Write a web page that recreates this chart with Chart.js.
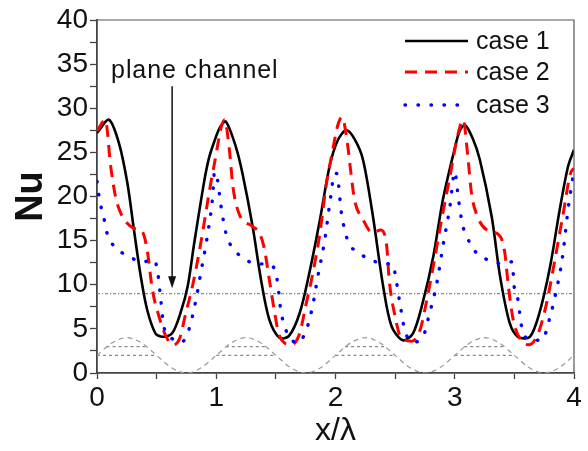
<!DOCTYPE html>
<html>
<head>
<meta charset="utf-8">
<title>Nu along the channel</title>
<script src="https://cdn.jsdelivr.net/npm/chart.js@4.4.1/dist/chart.umd.min.js"></script>
<style>
    html, body { margin: 0; padding: 0; background: #fff; }
    #wrap { width: 588px; height: 451px; }
</style>
</head>
<body>
<div id="wrap"><canvas id="nuChart" width="588" height="451"></canvas></div>
<script>
// Values (x in wavelengths, Nu)

const case1X = [0, 0.10, 0.185, 0.255, 0.31, 0.367, 0.42, 0.49, 0.55, 0.63, 0.70, 0.76, 0.815, 0.90, 0.94, 0.983, 1.03,
    1.08, 1.165, 1.22, 1.305, 1.375, 1.445, 1.53, 1.61, 1.70, 1.78, 1.87, 1.95, 2.02,
    2.09, 2.16, 2.23, 2.31, 2.40, 2.47, 2.565, 2.65, 2.73, 2.82, 2.90, 2.99, 3.04,
    3.085, 3.15, 3.21, 3.31, 3.38, 3.46, 3.53, 3.63, 3.71, 3.80, 3.88, 3.95, 4.0];
const case1Y = [27.2, 28.7, 26.0, 21.5, 16.2, 10.95, 7.2, 4.5, 4.1, 4.5, 6.8, 9.8, 14.7, 21.8, 24.4, 26.2, 27.8,
    28.5, 25.6, 22.6, 16.6, 10.6, 6.05, 4.0, 4.2, 6.8, 11.3, 17.4, 23.4, 26.4,
    27.5, 26.5, 24.2, 18.1, 9.8, 5.3, 3.7, 4.5, 7.9, 13.2, 19.6, 24.9, 27.4,
    28.1, 26.6, 24.2, 17.7, 10.95, 5.7, 4.1, 4.1, 6.8, 12.1, 18.5, 23.4, 25.3];

const case2X = [0, 0.07, 0.115, 0.155, 0.20, 0.31, 0.38, 0.42, 0.465, 0.52, 0.577, 0.633, 0.69, 0.745, 0.80, 0.87, 0.94, 0.98,
    1.07, 1.11, 1.14, 1.19, 1.305, 1.36, 1.40, 1.445, 1.49, 1.53, 1.63, 1.70, 1.75, 1.81, 1.87, 1.92, 1.97, 2.02,
    2.055, 2.10, 2.13, 2.16, 2.23, 2.31, 2.38, 2.43, 2.45, 2.50, 2.55, 2.64, 2.71, 2.76, 2.82, 2.89, 2.96, 3.03,
    3.07, 3.11, 3.14, 3.18, 3.27, 3.38, 3.42, 3.45, 3.49, 3.55, 3.62, 3.70, 3.77, 3.83, 3.91, 3.97, 4.0];
const case2Y = [27.4, 28.7, 23.4, 20.0, 18.1, 16.4, 16.0, 14.0, 9.4, 6.4, 4.2, 3.2, 3.8, 6.8, 9.8, 14.7, 20.4, 23.4,
    28.7, 25.3, 21.1, 18.1, 16.6, 15.9, 14.3, 10.6, 6.8, 4.2, 3.2, 4.5, 7.6, 11.3, 15.9, 21.1, 24.8, 28.1,
    29.0, 26.0, 22.6, 19.6, 17.4, 15.9, 16.2, 14.3, 10.6, 6.4, 4.0, 3.6, 4.9, 7.9, 12.1, 17.4, 22.3, 27.2,
    28.7, 24.5, 20.4, 18.1, 16.2, 15.5, 13.6, 9.8, 6.05, 3.8, 3.2, 4.5, 7.9, 12.1, 18.1, 22.6, 23.2];

const case3X = [0, 0.015, 0.036, 0.06, 0.087, 0.157, 0.27, 0.38, 0.48, 0.51, 0.535, 0.56, 0.62, 0.71, 0.77, 0.83, 0.87, 0.93, 0.97, 0.985,
    1.01, 1.04, 1.08, 1.12, 1.22, 1.33, 1.445, 1.49, 1.515, 1.54, 1.56, 1.60, 1.68, 1.75, 1.81, 1.85, 1.91, 1.96, 1.99,
    2.01, 2.05, 2.10, 2.20, 2.30, 2.41, 2.48, 2.51, 2.54, 2.58, 2.65, 2.74, 2.78, 2.85, 2.90, 2.96, 3.00,
    3.03, 3.065, 3.10, 3.17, 3.28, 3.39, 3.48, 3.50, 3.53, 3.56, 3.62, 3.73, 3.80, 3.85, 3.90, 3.95, 4.0];
const case3Y = [21.7, 20.2, 18.7, 17.4, 15.7, 14.2, 13.2, 12.6, 12.8, 11.3, 8.3, 5.3, 4.0, 3.5, 4.9, 8.3, 11.3, 15.9, 20.0, 22.8,
    21.9, 18.9, 15.9, 14.5, 13.1, 12.4, 12.3, 11.7, 10.2, 7.2, 5.9, 4.4, 3.4, 4.7, 7.7, 10.8, 15.1, 20.0, 22.6,
    22.6, 18.1, 15.1, 13.6, 12.8, 12.4, 12.3, 10.4, 7.9, 4.9, 3.5, 4.3, 6.3, 10.2, 14.3, 18.9, 22.8,
    19.8, 16.8, 15.5, 13.8, 12.8, 12.4, 12.6, 9.6, 8.3, 5.3, 3.8, 3.7, 6.4, 9.25, 12.8, 18.5, 23.0];

// wavy wall profile (gray dashed) and the two chords drawn across each bump
const wallX = [0, 0.125, 0.25, 0.375, 0.5, 0.625, 0.75, 0.875, 1, 1.125, 1.25, 1.375, 1.5, 1.625, 1.75, 1.875,
    2, 2.125, 2.25, 2.375, 2.5, 2.625, 2.75, 2.875, 3, 3.125, 3.25, 3.375, 3.5, 3.625, 3.75, 3.875, 4];
const wallY = [2, 3.4, 4, 3.4, 2, 0.6, 0, 0.6, 2, 3.4, 4, 3.4, 2, 0.6, 0, 0.6,
    2, 3.4, 4, 3.4, 2, 0.6, 0, 0.6, 2, 3.4, 4, 3.4, 2, 0.6, 0, 0.6, 2];
const chordLowX = [0, 0.5, 1, 1.5, 2, 2.5, 3, 3.5];
const chordHighX = [0.08, 0.42, 1.08, 1.42, 2.08, 2.42, 3.08, 3.42];
const chordLowY = 2;
const chordHighY = 3;

// plane channel reference level
const planeNu = 9;
const planeLabel = 'plane channel';
const arrowX = 0.63;
const arrowFrom = 32.5;
const arrowTo = 9.6;
const labelX = 0.82;
const labelY = 33.4;

const xTicks = [0, 1, 2, 3, 4];
const yTicks = [0, 5, 10, 15, 20, 25, 30, 35, 40];
const seriesNames = ['case 1', 'case 2', 'case 3'];

const FONT = "'Liberation Sans', Arial, sans-serif";

function toPoints(xs, ys) {
    return xs.map((x, i) => ({ x: x, y: ys[i] }));
}

// pairs of x values -> separate horizontal segments, broken by null
function chordPoints(xs, level) {
    const pts = [];
    for (let i = 0; i < xs.length; i += 2) {
        pts.push({ x: xs[i], y: level }, { x: xs[i + 1], y: level });
        if (i + 2 < xs.length) pts.push({ x: (xs[i + 1] + xs[i + 2]) / 2, y: null });
    }
    return pts;
}

const caseSets = [
    {
        label: seriesNames[0],
        data: toPoints(case1X, case1Y),
        borderColor: '#000000',
        borderWidth: 2.6,
        borderDash: [],
        borderCapStyle: 'butt',
        tension: 0.3,
        order: 2
    },
    {
        label: seriesNames[1],
        data: toPoints(case2X, case2Y),
        borderColor: '#ff0000',
        borderWidth: 3,
        borderDash: [12, 8],
        borderCapStyle: 'butt',
        cubicInterpolationMode: 'monotone',
        order: 1
    },
    {
        label: seriesNames[2],
        data: toPoints(case3X, case3Y),
        borderColor: '#0000ff',
        borderWidth: 3.4,
        borderDash: [0.5, 12.5],
        borderCapStyle: 'round',
        cubicInterpolationMode: 'monotone',
        order: 0
    }
];

const extraSets = [
    {
        label: 'wall',
        data: toPoints(wallX, wallY),
        borderColor: '#999999',
        borderWidth: 1.2,
        borderDash: [5, 4],
        cubicInterpolationMode: 'monotone',
        order: 5
    },
    {
        label: 'chord low',
        data: chordPoints(chordLowX, chordLowY),
        borderColor: '#8a8a8a',
        borderWidth: 1.2,
        borderDash: [3, 3],
        spanGaps: false,
        order: 5
    },
    {
        label: 'chord high',
        data: chordPoints(chordHighX, chordHighY),
        borderColor: '#8a8a8a',
        borderWidth: 1.2,
        borderDash: [3, 3],
        spanGaps: false,
        order: 5
    },
    {
        label: 'plane',
        data: [{ x: 0, y: planeNu }, { x: 4, y: planeNu }],
        borderColor: '#888888',
        borderWidth: 1.2,
        borderDash: [3, 2, 1, 2],
        order: 4
    }
];

// frame, arrow + label, legend
const decorations = {
    id: 'decorations',
    afterDatasetsDraw(chart) {
        const { ctx, chartArea: a } = chart;
        const xs = chart.scales.x, ys = chart.scales.y;
        ctx.save();

        // top and right frame lines
        ctx.strokeStyle = '#555';
        ctx.lineWidth = 1.2;
        ctx.setLineDash([]);
        ctx.beginPath();
        ctx.moveTo(a.left, a.top);
        ctx.lineTo(a.right, a.top);
        ctx.lineTo(a.right, a.bottom);
        ctx.stroke();

        // arrow
        const ax = xs.getPixelForValue(arrowX);
        const y0 = ys.getPixelForValue(arrowFrom);
        const y1 = ys.getPixelForValue(arrowTo);
        ctx.strokeStyle = '#111';
        ctx.fillStyle = '#111';
        ctx.lineWidth = 1.5;
        ctx.beginPath();
        ctx.moveTo(ax, y0);
        ctx.lineTo(ax, y1 - 10);
        ctx.stroke();
        ctx.beginPath();
        ctx.moveTo(ax, y1);
        ctx.lineTo(ax - 4, y1 - 12);
        ctx.lineTo(ax + 4, y1 - 12);
        ctx.closePath();
        ctx.fill();

        // label
        ctx.font = '25px ' + FONT;
        ctx.letterSpacing = '0.9px';
        ctx.textAlign = 'center';
        ctx.textBaseline = 'alphabetic';
        ctx.fillStyle = '#111';
        ctx.fillText(planeLabel, xs.getPixelForValue(labelX), ys.getPixelForValue(labelY));
        ctx.letterSpacing = '0px';

        // legend
        const lx0 = a.right - 169, lx1 = a.right - 106;
        const rowY = [a.top + 21, a.top + 52, a.top + 85];
        ctx.font = '25px ' + FONT;
        ctx.textAlign = 'left';
        ctx.textBaseline = 'middle';
        caseSets.forEach((ds, i) => {
            ctx.strokeStyle = ds.borderColor;
            ctx.lineWidth = ds.borderWidth;
            ctx.lineCap = ds.borderCapStyle;
            ctx.setLineDash(ds.borderDash);
            ctx.beginPath();
            ctx.moveTo(lx0, rowY[i]);
            ctx.lineTo(lx1, rowY[i]);
            ctx.stroke();
            ctx.setLineDash([]);
            ctx.fillStyle = '#111';
            ctx.fillText(ds.label, a.right - 98, rowY[i] + 1);
        });
        ctx.restore();
    }
};

new Chart(document.getElementById('nuChart'), {
    type: 'line',
    data: { datasets: caseSets.concat(extraSets) },
    options: {
        responsive: false,
        animation: false,
        devicePixelRatio: 1,
        layout: { padding: { top: 20, right: 14, left: 0, bottom: 0 } },
        elements: { point: { radius: 0 }, line: { tension: 0 } },
        plugins: {
            legend: { display: false },
            tooltip: { enabled: false }
        },
        scales: {
            x: {
                type: 'linear',
                min: 0,
                max: 4,
                afterFit(scale) { scale.height = 78; },
                afterBuildTicks(scale) {
                    const t = [];
                    for (let v = 0; v <= 8; v++) t.push({ value: v / 2 });
                    scale.ticks = t;
                },
                ticks: {
                    font: { family: FONT, size: 28 },
                    color: '#111',
                    padding: 2,
                    maxRotation: 0,
                    autoSkip: false,
                    callback: (v) => xTicks.includes(v) ? String(v) : ''
                },
                grid: { drawOnChartArea: false, tickLength: 6, tickColor: '#444', tickWidth: 1.3 },
                border: { color: '#444', width: 1.8 },
                title: {
                    display: true,
                    text: 'x/λ',
                    font: { family: FONT, size: 32, lineHeight: 1.1 },
                    color: '#111',
                    padding: { top: 0, bottom: 2 }
                }
            },
            y: {
                type: 'linear',
                min: 0,
                max: 40,
                afterFit(scale) { scale.width = 97; },
                afterBuildTicks(scale) {
                    const t = [];
                    for (let v = 0; v <= 16; v++) t.push({ value: v * 2.5 });
                    scale.ticks = t;
                },
                ticks: {
                    font: { family: FONT, size: 28 },
                    color: '#111',
                    padding: 2,
                    autoSkip: false,
                    callback: (v) => yTicks.includes(v) ? String(v) : ''
                },
                grid: { drawOnChartArea: false, tickLength: 7, tickColor: '#444', tickWidth: 1.3 },
                border: { color: '#444', width: 1.8 },
                title: {
                    display: true,
                    text: 'Nu',
                    font: { family: FONT, size: 38, weight: 'bold', lineHeight: 1.1 },
                    color: '#111',
                    padding: { top: 11, bottom: 0 }
                }
            }
        }
    },
    plugins: [decorations]
});
</script>
</body>
</html>
